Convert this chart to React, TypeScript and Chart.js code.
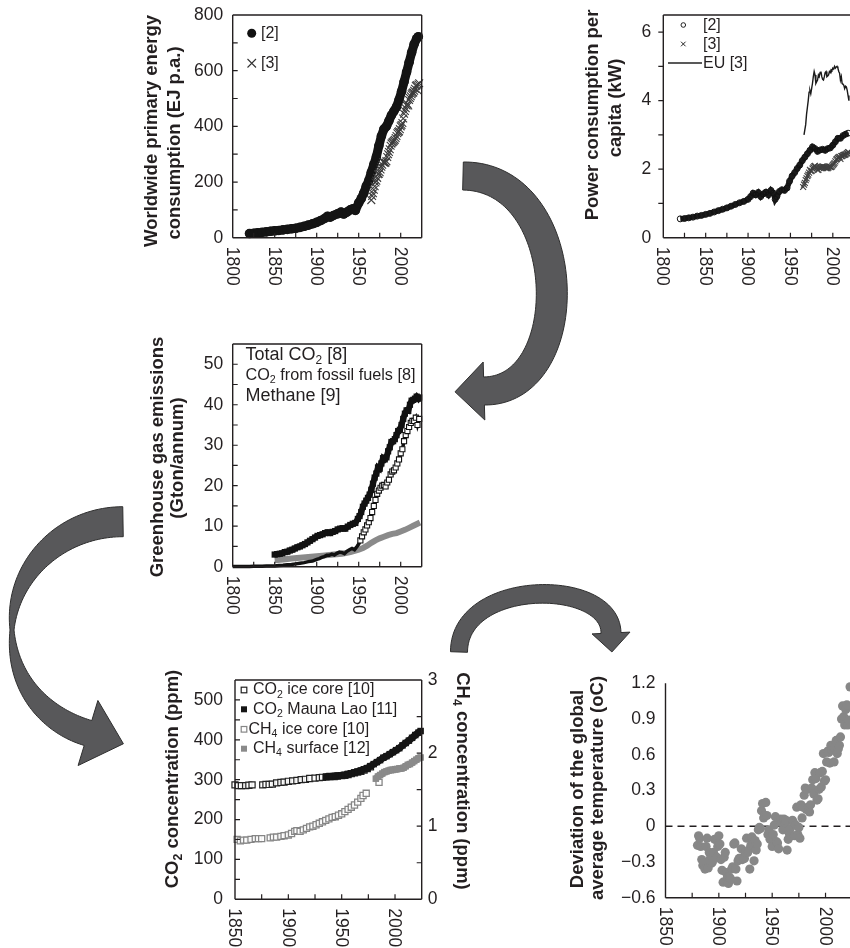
import React, { useEffect, useRef } from 'react';
import { Chart, registerables } from 'chart.js';
Chart.register(...registerables);

const FONT = '"Liberation Sans", Arial, Helvetica, sans-serif';
const INK = '#231f20';

// ---------------- Panel 1: worldwide primary energy (EJ p.a.) ----------------
const energyRef2 = [[1820,15],[1825,16],[1830,18],[1835,19],[1840,21],[1845,23],[1850,25],[1855,26],[1860,28],[1865,30],[1870,32],[1875,34],[1880,37],[1885,41],[1890,45],[1895,50],[1900,55],[1905,62],[1910,70],[1913,77],[1916,74],[1920,80],[1925,86],[1929,92],[1932,85],[1936,92],[1940,100],[1943,104],[1946,98],[1950,125],[1953,140],[1956,160],[1959,185],[1962,205],[1965,235],[1968,262],[1971,290],[1974,330],[1977,365],[1980,390],[1983,400],[1986,420],[1989,440],[1992,455],[1995,470],[1998,495],[2001,525],[2004,560],[2007,595],[2010,630],[2013,665],[2016,695],[2019,715],[2021,722]];
const energyRef3 = [[1965,135],[1966,150],[1967,160],[1968,172],[1969,185],[1970,198],[1971,205],[1972,215],[1973,228],[1974,230],[1975,235],[1976,245],[1977,255],[1978,262],[1979,272],[1980,270],[1981,268],[1982,270],[1983,275],[1984,290],[1985,300],[1986,308],[1987,318],[1988,330],[1989,338],[1990,342],[1991,345],[1992,348],[1993,352],[1994,358],[1995,365],[1996,375],[1997,380],[1998,382],[1999,390],[2000,400],[2001,405],[2002,412],[2003,428],[2004,445],[2005,455],[2006,465],[2007,475],[2008,480],[2009,475],[2010,495],[2011,502],[2012,508],[2013,515],[2014,520],[2015,522],[2016,528],[2017,535],[2018,545],[2019,548],[2020,530],[2021,550],[2022,555]];
const energyTicks = [100,200,300,400,500,600,700];
const energyLabels = [0,200,400,600,800];

// ---------------- Panel 2: power consumption per capita (kW) ----------------
const powerRef2 = [[1820,0.55],[1825,0.56],[1830,0.58],[1835,0.6],[1840,0.63],[1845,0.65],[1850,0.68],[1855,0.71],[1860,0.75],[1865,0.79],[1870,0.83],[1875,0.87],[1880,0.92],[1885,0.97],[1890,1.02],[1895,1.06],[1900,1.12],[1903,1.2],[1906,1.3],[1909,1.25],[1912,1.32],[1915,1.2],[1918,1.28],[1921,1.33],[1924,1.25],[1927,1.38],[1930,1.3],[1932,1.12],[1934,1.2],[1937,1.35],[1940,1.4],[1943,1.38],[1946,1.45],[1949,1.65],[1952,1.8],[1955,1.9],[1958,2.02],[1961,2.12],[1964,2.25],[1967,2.35],[1970,2.45],[1973,2.55],[1976,2.65],[1979,2.6],[1982,2.52],[1985,2.56],[1988,2.58],[1991,2.55],[1994,2.6],[1997,2.62],[2000,2.7],[2003,2.8],[2006,2.9],[2009,2.9],[2012,2.98],[2015,3.02],[2018,3.05]];
const powerRef3 = [[1965,1.48],[1966,1.55],[1967,1.6],[1968,1.68],[1969,1.73],[1970,1.8],[1971,1.84],[1972,1.9],[1973,1.98],[1974,1.94],[1975,1.95],[1976,2.02],[1977,2.05],[1978,2.08],[1979,2.1],[1980,2.05],[1981,2.02],[1982,1.98],[1983,1.98],[1984,2.03],[1985,2.05],[1986,2.05],[1987,2.07],[1988,2.08],[1989,2.07],[1990,2.06],[1991,2.05],[1992,2.03],[1993,2.03],[1994,2.03],[1995,2.05],[1996,2.08],[1997,2.07],[1998,2.06],[1999,2.08],[2000,2.12],[2001,2.15],[2002,2.18],[2003,2.23],[2004,2.28],[2005,2.3],[2006,2.33],[2007,2.35],[2008,2.36],[2009,2.3],[2010,2.38],[2011,2.38],[2012,2.4],[2013,2.42],[2014,2.42],[2015,2.43],[2016,2.45],[2017,2.47],[2018,2.5],[2019,2.48]];
const powerEU = [[1966,3.0],[1968,3.3],[1969,3.6],[1970,3.8],[1971,4.0],[1972,4.25],[1973,4.3],[1974,4.2],[1975,4.35],[1976,4.5],[1977,4.7],[1978,4.85],[1979,4.75],[1980,4.5],[1981,4.55],[1982,4.6],[1983,4.75],[1984,4.7],[1985,4.82],[1986,4.85],[1987,4.7],[1988,4.62],[1989,4.6],[1990,4.7],[1991,4.82],[1992,4.85],[1993,4.7],[1994,4.72],[1995,4.75],[1996,4.85],[1997,4.82],[1998,4.9],[1999,4.88],[2000,4.95],[2001,4.92],[2002,5.0],[2003,4.95],[2004,4.98],[2005,5.0],[2006,4.95],[2007,4.85],[2008,4.8],[2009,4.6],[2010,4.7],[2011,4.5],[2012,4.48],[2013,4.45],[2014,4.35],[2015,4.42],[2016,4.4],[2017,4.3],[2018,4.15],[2019,4.0]];
const powerTicks = [1,2,3,4,5,6];
const powerLabels = [0,2,4,6];

// ---------------- Panel 3: greenhouse gas emissions (Gton/annum) ----------------
const ghgTotal = [[1850,3.0],[1853,3.1],[1856,3.2],[1859,3.3],[1862,3.6],[1865,3.7],[1868,4.0],[1871,4.2],[1874,4.5],[1877,4.8],[1880,5.0],[1883,5.3],[1886,5.6],[1889,6.0],[1892,6.4],[1895,6.8],[1898,7.2],[1901,7.6],[1904,7.8],[1907,8.0],[1910,8.3],[1913,8.5],[1916,8.3],[1919,8.6],[1922,8.8],[1925,9.2],[1928,9.4],[1931,9.5],[1934,9.4],[1937,9.9],[1940,10.3],[1943,10.6],[1946,10.8],[1949,11.8],[1951,12.5],[1953,13.5],[1955,14.8],[1957,15.6],[1959,16.3],[1961,17.0],[1963,17.8],[1965,19.0],[1967,20.5],[1969,22.0],[1971,23.0],[1973,24.5],[1975,24.2],[1977,25.5],[1979,26.8],[1981,26.5],[1983,27.0],[1985,28.5],[1987,29.5],[1989,30.8],[1991,31.0],[1993,31.5],[1995,32.5],[1997,33.5],[1999,33.8],[2001,35.0],[2003,36.5],[2005,37.8],[2007,38.6],[2009,38.5],[2011,40.0],[2013,41.0],[2015,41.2],[2017,41.5],[2019,42.0],[2021,41.5],[2022,41.8]];
const ghgFossil = [[1800,0.03],[1805,0.04],[1810,0.05],[1815,0.06],[1820,0.07],[1825,0.09],[1830,0.1],[1835,0.13],[1840,0.16],[1845,0.2],[1850,0.2],[1855,0.3],[1860,0.35],[1865,0.5],[1870,0.55],[1875,0.7],[1880,0.85],[1885,1.0],[1890,1.25],[1895,1.4],[1900,1.8],[1903,2.0],[1906,2.3],[1909,2.5],[1912,2.8],[1915,2.8],[1918,3.1],[1921,2.9],[1924,3.3],[1927,3.6],[1930,3.5],[1933,3.2],[1936,3.8],[1939,4.2],[1942,4.5],[1945,4.2],[1948,5.0],[1950,5.6],[1952,6.5],[1954,7.5],[1956,8.5],[1958,9.2],[1960,10.2],[1962,11.0],[1964,12.0],[1966,13.5],[1968,15.0],[1970,16.5],[1972,18.0],[1974,18.8],[1976,19.5],[1978,20.0],[1980,20.2],[1982,19.8],[1984,20.8],[1986,21.5],[1988,22.8],[1990,23.5],[1992,23.8],[1994,24.5],[1996,25.5],[1998,26.5],[2000,28.0],[2002,29.0],[2004,31.0],[2006,32.5],[2008,33.5],[2010,34.5],[2012,35.5],[2014,36.0],[2016,36.0],[2018,36.8],[2020,35.0],[2022,36.5]];
const ghgMethane = [[1850,1.6],[1860,1.8],[1870,2.0],[1880,2.2],[1890,2.4],[1900,2.6],[1910,2.8],[1920,3.0],[1930,3.2],[1940,3.6],[1950,4.2],[1955,4.6],[1960,5.2],[1965,5.9],[1970,6.5],[1975,7.0],[1980,7.4],[1985,7.8],[1990,8.1],[1995,8.3],[2000,8.7],[2005,9.1],[2010,9.6],[2015,10.1],[2020,10.6],[2023,10.9]];
const ghgTicks = [5,10,15,20,25,30,35,40,45,50];
const ghgLabels = [0,10,20,30,40,50];

// ---------------- Panel 4: CO2 / CH4 concentration ----------------
const co2IceCore = [[1850,287],[1853,285],[1856,285],[1860,285],[1863,286],[1866,287],[1876,287],[1879,288],[1882,288],[1885,289],[1889,292],[1893,293],[1896,294],[1900,296],[1904,297],[1908,298],[1912,300],[1916,301],[1920,303],[1925,304],[1929,305],[1932,306],[1936,307],[1939,308],[1943,308],[1946,309],[1950,310],[1953,311],[1956,313],[1959,315],[1962,317],[1965,319],[1968,321],[1971,324],[1974,328],[1977,332]];
const co2MaunaLoa = [[1935,307],[1938,308],[1941,308],[1944,309],[1947,310],[1950,311],[1953,312],[1956,314],[1959,316],[1962,318],[1965,320],[1968,323],[1971,326],[1974,329],[1977,334],[1980,339],[1983,344],[1986,349],[1989,355],[1992,359],[1995,364],[1998,369],[2001,374],[2004,379],[2007,386],[2010,392],[2013,398],[2016,405],[2019,412],[2022,418],[2024,422]];
const ch4IceCore = [[1852,0.82],[1855,0.8],[1858,0.81],[1861,0.81],[1865,0.82],[1869,0.83],[1872,0.83],[1875,0.83],[1883,0.84],[1886,0.85],[1889,0.85],[1893,0.86],[1896,0.87],[1900,0.88],[1903,0.9],[1906,0.93],[1908,0.94],[1911,0.93],[1914,0.95],[1917,0.97],[1920,0.99],[1923,1.0],[1926,1.02],[1929,1.04],[1932,1.06],[1935,1.08],[1938,1.1],[1941,1.12],[1944,1.13],[1947,1.15],[1950,1.17],[1953,1.2],[1956,1.23],[1959,1.26],[1962,1.29],[1965,1.33],[1968,1.38],[1970,1.42],[1973,1.45],[1985,1.6]];
const ch4Surface = [[1982,1.65],[1984,1.68],[1986,1.7],[1988,1.72],[1990,1.74],[1992,1.75],[1994,1.76],[1996,1.77],[1998,1.77],[2000,1.78],[2002,1.78],[2004,1.79],[2006,1.79],[2008,1.8],[2010,1.82],[2012,1.84],[2014,1.85],[2016,1.87],[2018,1.89],[2020,1.91],[2022,1.93],[2024,1.94]];
const co2Ticks = [50,100,150,200,250,300,350,400,450,500];
const co2Labels = [0,100,200,300,400,500];
const ch4Ticks = [0.5,1,1.5,2,2.5];
const ch4Labels = [0,1,2,3];

// ---------------- Panel 5: global temperature deviation ----------------
const tempAnomaly = [[1880,-0.16],[1881,-0.08],[1882,-0.10],[1883,-0.17],[1884,-0.28],[1885,-0.33],[1886,-0.31],[1887,-0.36],[1888,-0.17],[1889,-0.10],[1890,-0.35],[1891,-0.22],[1892,-0.27],[1893,-0.31],[1894,-0.30],[1895,-0.22],[1896,-0.11],[1897,-0.11],[1898,-0.26],[1899,-0.17],[1900,-0.08],[1901,-0.15],[1902,-0.28],[1903,-0.37],[1904,-0.47],[1905,-0.26],[1906,-0.22],[1907,-0.39],[1908,-0.43],[1909,-0.48],[1910,-0.43],[1911,-0.44],[1912,-0.36],[1913,-0.34],[1914,-0.15],[1915,-0.14],[1916,-0.36],[1917,-0.46],[1918,-0.29],[1919,-0.27],[1920,-0.27],[1921,-0.19],[1922,-0.28],[1923,-0.26],[1924,-0.27],[1925,-0.22],[1926,-0.10],[1927,-0.22],[1928,-0.20],[1929,-0.36],[1930,-0.16],[1931,-0.09],[1932,-0.16],[1933,-0.29],[1934,-0.12],[1935,-0.20],[1936,-0.15],[1937,-0.03],[1938,-0.01],[1939,-0.02],[1940,0.13],[1941,0.19],[1942,0.07],[1943,0.09],[1944,0.20],[1945,0.09],[1946,-0.07],[1947,-0.03],[1948,-0.11],[1949,-0.11],[1950,-0.17],[1951,-0.07],[1952,0.01],[1953,0.08],[1954,-0.13],[1955,-0.14],[1956,-0.19],[1957,0.05],[1958,0.06],[1959,0.03],[1960,-0.03],[1961,0.06],[1962,0.03],[1963,0.05],[1964,-0.20],[1965,-0.11],[1966,-0.06],[1967,-0.02],[1968,-0.08],[1969,0.05],[1970,0.03],[1971,-0.08],[1972,0.01],[1973,0.16],[1974,-0.07],[1975,-0.01],[1976,-0.10],[1977,0.18],[1978,0.07],[1979,0.16],[1980,0.26],[1981,0.32],[1982,0.14],[1983,0.31],[1984,0.16],[1985,0.12],[1986,0.18],[1987,0.32],[1988,0.39],[1989,0.27],[1990,0.45],[1991,0.40],[1992,0.22],[1993,0.23],[1994,0.31],[1995,0.45],[1996,0.33],[1997,0.46],[1998,0.61],[1999,0.38],[2000,0.39],[2001,0.54],[2002,0.63],[2003,0.62],[2004,0.53],[2005,0.68],[2006,0.64],[2007,0.66],[2008,0.54],[2009,0.65],[2010,0.72],[2011,0.61],[2012,0.65],[2013,0.68],[2014,0.75],[2015,0.90],[2016,1.01],[2017,0.92],[2018,0.85],[2019,0.98],[2020,1.02],[2021,0.85],[2022,0.89],[2023,1.17]];
const tempTickValues = [-0.6,-0.3,0,0.3,0.6,0.9,1.2];
const tempTickLabels = ['\u22120.6','\u22120.3','0','0.3','0.6','0.9','1.2'];

// ---------------- shared year axes ----------------
const yearTicks1800 = [1825,1850,1875,1900,1925,1950,1975,2000];
const yearLabels1800 = [1800,1850,1900,1950,2000];
const yearTicks1850 = [1875,1900,1925,1950,1975,2000];
const yearLabels1850 = [1850,1900,1950,2000];

// ---------------- helpers ----------------
type Part = { t: string; sub?: boolean };
function parseRich(s: string): Part[] {
  const parts: Part[] = [];
  const re = /_(.)/g;
  let last = 0;
  let m: RegExpExecArray | null;
  while ((m = re.exec(s))) {
    if (m.index > last) parts.push({ t: s.slice(last, m.index) });
    parts.push({ t: m[1], sub: true });
    last = re.lastIndex;
  }
  if (last < s.length) parts.push({ t: s.slice(last) });
  return parts;
}
function drawRich(ctx: CanvasRenderingContext2D, s: string, x: number, y: number, size: number, weight: string, align: 'left' | 'center', fitWidth?: number) {
  const parts = parseRich(s);
  const fontFor = (p: Part) => `${weight} ${p.sub ? size * 0.66 : size}px ${FONT}`;
  let w = 0;
  for (const p of parts) { ctx.font = fontFor(p); w += ctx.measureText(p.t).width; }
  const sc = fitWidth ? fitWidth / w : 1;
  ctx.save();
  ctx.translate(x, y);
  ctx.scale(sc, 1);
  ctx.textAlign = 'left';
  ctx.textBaseline = 'middle';
  let cx = align === 'center' ? -w / 2 : 0;
  for (const p of parts) {
    ctx.font = fontFor(p);
    ctx.fillText(p.t, cx, p.sub ? size * 0.3 : 0);
    cx += ctx.measureText(p.t).width;
  }
  ctx.restore();
}

type Title = { text: string; x: number; y: number; rot: number };
type PanelSpec = {
  left: number; top: number; width: number; height: number;
  area: { l: number; t: number; r: number; b: number };
  x: [number, number]; y: [number, number]; y2?: [number, number];
  xTicks: number[]; xLabels: number[];
  yTicks: number[]; yLabels: number[]; yLabelText?: string[]; yTickOut?: boolean; yLabelGap: number; yTickLen?: number;
  y2Ticks?: number[]; y2Labels?: number[];
  frame: string[];
  titles: Title[];
  legend?: (ctx: CanvasRenderingContext2D) => void;
  under?: (ctx: CanvasRenderingContext2D, X: (v: number) => number, Y: (v: number) => number, A: any) => void;
  datasets: any[];
};

function drawDecor(chart: any, spec: PanelSpec) {
  const ctx: CanvasRenderingContext2D = chart.ctx;
  const a = chart.chartArea;
  const ox = spec.left, oy = spec.top;
  const xs = chart.scales.x, ys = chart.scales.y, y2s = chart.scales.y2;
  const A = { l: a.left + ox, r: a.right + ox, t: a.top + oy, b: a.bottom + oy };
  const X = (v: number) => xs.getPixelForValue(v) + ox;
  const Y = (v: number) => ys.getPixelForValue(v) + oy;
  const Y2 = (v: number) => y2s.getPixelForValue(v) + oy;
  ctx.save();
  ctx.translate(-ox, -oy);
  ctx.strokeStyle = INK;
  ctx.fillStyle = INK;
  ctx.lineWidth = 1.4;
  ctx.beginPath();
  if (spec.frame.includes('left')) { ctx.moveTo(A.l, A.t); ctx.lineTo(A.l, A.b); }
  if (spec.frame.includes('bottom')) { ctx.moveTo(A.l, A.b); ctx.lineTo(A.r, A.b); }
  if (spec.frame.includes('top')) { ctx.moveTo(A.l, A.t); ctx.lineTo(A.r, A.t); }
  if (spec.frame.includes('right')) { ctx.moveTo(A.r, A.t); ctx.lineTo(A.r, A.b); }
  ctx.stroke();
  const tl = spec.yTickLen ?? 5;
  ctx.lineWidth = 1.2;
  ctx.beginPath();
  for (const v of spec.xTicks) { const px = X(v); ctx.moveTo(px, A.b); ctx.lineTo(px, A.b - 5); }
  for (const v of spec.yTicks) {
    const py = Y(v);
    if (spec.yTickOut) { ctx.moveTo(A.l - tl, py); ctx.lineTo(A.l, py); }
    else { ctx.moveTo(A.l, py); ctx.lineTo(A.l + tl, py); }
  }
  if (spec.y2Ticks) for (const v of spec.y2Ticks) { const py = Y2(v); ctx.moveTo(A.r, py); ctx.lineTo(A.r - 5, py); }
  ctx.stroke();
  ctx.font = `17.5px ${FONT}`;
  ctx.textBaseline = 'middle';
  for (const v of spec.xLabels) {
    ctx.save();
    ctx.translate(X(v), A.b + 9);
    ctx.rotate(Math.PI / 2);
    ctx.textAlign = 'left';
    ctx.fillText(String(v), 0, 1);
    ctx.restore();
  }
  ctx.textAlign = 'right';
  spec.yLabels.forEach((v, i) => {
    const txt = spec.yLabelText ? spec.yLabelText[i] : String(v);
    ctx.fillText(txt, A.l - spec.yLabelGap, Y(v));
  });
  if (spec.y2Labels) {
    ctx.textAlign = 'left';
    for (const v of spec.y2Labels) ctx.fillText(String(v), A.r + 6, Y2(v));
  }
  for (const t of spec.titles) {
    ctx.save();
    ctx.translate(t.x, t.y);
    ctx.rotate((t.rot * Math.PI) / 180);
    drawRich(ctx, t.text, 0, 0, 18.5, 'bold', 'center');
    ctx.restore();
  }
  if (spec.legend) spec.legend(ctx);
  ctx.restore();
}

function drawUnder(chart: any, spec: PanelSpec) {
  if (!spec.under) return;
  const ctx: CanvasRenderingContext2D = chart.ctx;
  const a = chart.chartArea;
  const ox = spec.left, oy = spec.top;
  const A = { l: a.left + ox, r: a.right + ox, t: a.top + oy, b: a.bottom + oy };
  const X = (v: number) => chart.scales.x.getPixelForValue(v) + ox;
  const Y = (v: number) => chart.scales.y.getPixelForValue(v) + oy;
  ctx.save();
  ctx.translate(-ox, -oy);
  spec.under(ctx, X, Y, A);
  ctx.restore();
}

const DS = (data: number[][], o: any) => ({ data: data.map(([x, y]) => ({ x, y })), clip: false, pointHoverRadius: 0, ...o });

function buildChart(canvas: HTMLCanvasElement, spec: PanelSpec) {
  const scales: any = {
    x: { type: 'linear', min: spec.x[0], max: spec.x[1], display: false },
    y: { type: 'linear', min: spec.y[0], max: spec.y[1], display: false },
  };
  if (spec.y2) scales.y2 = { type: 'linear', position: 'right', min: spec.y2[0], max: spec.y2[1], display: false };
  return new Chart(canvas, {
    type: 'scatter',
    data: { datasets: spec.datasets },
    options: {
      responsive: false,
      animation: false,
      devicePixelRatio: 1,
      events: [],
      layout: {
        padding: {
          left: spec.area.l - spec.left,
          top: spec.area.t - spec.top,
          right: spec.left + spec.width - spec.area.r,
          bottom: spec.top + spec.height - spec.area.b,
        },
      },
      plugins: { legend: { display: false }, tooltip: { enabled: false } },
      scales,
    } as any,
    plugins: [{ id: 'decor', beforeDatasetsDraw: (c: any) => drawUnder(c, spec), afterDraw: (c: any) => drawDecor(c, spec) }],
  });
}

function legendText(ctx: CanvasRenderingContext2D, s: string, x: number, y: number, size = 16, fit?: number) {
  ctx.fillStyle = INK;
  drawRich(ctx, s, x, y, size, 'normal', 'left', fit);
}
function square(ctx: CanvasRenderingContext2D, x: number, y: number, s: number, color: string, filled: boolean) {
  if (filled) { ctx.fillStyle = color; ctx.fillRect(x - s / 2, y - s / 2, s, s); }
  else { ctx.strokeStyle = color; ctx.lineWidth = 1.2; ctx.strokeRect(x - s / 2, y - s / 2, s, s); }
}

// ---------------- panel specifications ----------------
const panels: PanelSpec[] = [
  {
    left: 130, top: 0, width: 310, height: 300,
    area: { l: 232.7, t: 15, r: 421.7, b: 237.7 },
    x: [1800, 2025], y: [0, 800],
    xTicks: yearTicks1800, xLabels: yearLabels1800,
    yTicks: energyTicks, yLabels: energyLabels, yLabelGap: 9.5,
    frame: ['left', 'bottom', 'top', 'right'],
    titles: [
      { text: 'Worldwide primary energy', x: 151.7, y: 131, rot: -90 },
      { text: 'consumption (EJ p.a.)', x: 174.5, y: 143, rot: -90 },
    ],
    legend: (ctx) => {
      ctx.fillStyle = '#111';
      ctx.beginPath(); ctx.arc(251.7, 33.3, 4.5, 0, Math.PI * 2); ctx.fill();
      legendText(ctx, '[2]', 261, 33.5);
      ctx.strokeStyle = '#333'; ctx.lineWidth = 1.1;
      ctx.beginPath();
      ctx.moveTo(247.5, 59); ctx.lineTo(256, 67.5); ctx.moveTo(256, 59); ctx.lineTo(247.5, 67.5);
      ctx.stroke();
      legendText(ctx, '[3]', 261, 63.5);
    },
    datasets: [
      DS(energyRef2, { order: 2, showLine: true, borderColor: '#141414', borderWidth: 9, borderJoinStyle: 'round', borderCapStyle: 'round', pointStyle: 'circle', pointRadius: 4.8, pointBackgroundColor: '#141414', pointBorderWidth: 0 }),
      DS(energyRef3, { order: 1, showLine: false, pointStyle: 'crossRot', pointRadius: 5.5, pointBorderColor: '#3c3c3c', pointBackgroundColor: '#3c3c3c', pointBorderWidth: 1.1 }),
    ],
  },
  {
    left: 560, top: 0, width: 300, height: 300,
    area: { l: 663.3, t: 15, r: 854, b: 237.7 },
    x: [1800, 2025], y: [0, 6.5],
    xTicks: yearTicks1800, xLabels: yearLabels1800,
    yTicks: powerTicks, yLabels: powerLabels, yLabelGap: 12, yTickOut: true,
    frame: ['left', 'bottom', 'top', 'right'],
    titles: [
      { text: 'Power consumption per', x: 593, y: 115, rot: -90 },
      { text: 'capita (kW)', x: 615.7, y: 108, rot: -90 },
    ],
    legend: (ctx) => {
      ctx.strokeStyle = '#222'; ctx.lineWidth = 1;
      ctx.beginPath(); ctx.arc(683.3, 25, 2.3, 0, Math.PI * 2); ctx.stroke();
      legendText(ctx, '[2]', 703, 25.5);
      ctx.beginPath();
      ctx.moveTo(681, 41.7); ctx.lineTo(685.6, 46.3); ctx.moveTo(685.6, 41.7); ctx.lineTo(681, 46.3);
      ctx.stroke();
      legendText(ctx, '[3]', 703, 44.5);
      ctx.lineWidth = 1.4;
      ctx.beginPath(); ctx.moveTo(668, 63); ctx.lineTo(702, 63); ctx.stroke();
      legendText(ctx, 'EU [3]', 703, 63.5);
    },
    datasets: [
      DS(powerEU, { order: 1, showLine: true, borderColor: '#1a1a1a', borderWidth: 1.4, pointRadius: 0 }),
      DS(powerRef3, { order: 2, showLine: false, pointStyle: 'crossRot', pointRadius: 4.2, pointBorderColor: '#404040', pointBackgroundColor: '#404040', pointBorderWidth: 1.1 }),
      DS(powerRef2, { order: 3, showLine: true, borderColor: '#1a1a1a', borderWidth: 5.5, pointStyle: 'circle', pointRadius: 3, pointBackgroundColor: 'rgba(255,255,255,0)', pointBorderColor: '#111', pointBorderWidth: 1 }),
    ],
  },
  {
    left: 135, top: 320, width: 310, height: 320,
    area: { l: 232.7, t: 344, r: 421.7, b: 566.7 },
    x: [1800, 2025], y: [0, 55],
    xTicks: yearTicks1800, xLabels: yearLabels1800,
    yTicks: ghgTicks, yLabels: ghgLabels, yLabelGap: 9.5,
    frame: ['left', 'bottom', 'top', 'right'],
    titles: [
      { text: 'Greenhouse gas emissions', x: 158.3, y: 457, rot: -90 },
      { text: '(Gton/annum)', x: 178.3, y: 458, rot: -90 },
    ],
    legend: (ctx) => {
      legendText(ctx, 'Total CO_2 [8]', 245.5, 355, 18);
      legendText(ctx, 'CO_2 from fossil fuels [8]', 245.5, 375.7, 16, 170);
      legendText(ctx, 'Methane [9]', 245.5, 395.7, 18);
    },
    datasets: [
      DS(ghgTotal, { order: 1, showLine: true, borderColor: '#111', borderWidth: 6, pointStyle: 'rect', pointRadius: 4.4, pointBackgroundColor: '#111', pointBorderWidth: 0 }),
      DS(ghgFossil, { order: 2, showLine: true, borderColor: '#111', borderWidth: 3.5, pointStyle: 'rect', pointRadius: (c: any) => (c.raw && c.raw.x >= 1952 ? 3.6 : 0), pointBackgroundColor: '#fff', pointBorderColor: '#111', pointBorderWidth: 1.1 }),
      DS(ghgMethane, { order: 3, showLine: true, borderColor: '#8a8a8a', borderWidth: 6, pointRadius: 0 }),
    ],
  },
  {
    left: 140, top: 650, width: 340, height: 298,
    area: { l: 235, t: 680, r: 421.7, b: 899.3 },
    x: [1850, 2025], y: [0, 550], y2: [0, 3],
    xTicks: yearTicks1850, xLabels: yearLabels1850,
    yTicks: co2Ticks, yLabels: co2Labels, yLabelGap: 12,
    y2Ticks: ch4Ticks, y2Labels: ch4Labels,
    frame: ['left', 'bottom', 'top', 'right'],
    titles: [
      { text: 'CO_2 concentration (ppm)', x: 173.3, y: 779, rot: -90 },
      { text: 'CH_4 concentration (ppm)', x: 462, y: 781, rot: 90 },
    ],
    legend: (ctx) => {
      square(ctx, 244, 690, 5.6, '#222', false);
      legendText(ctx, 'CO_2 ice core [10]', 253, 690);
      square(ctx, 244, 709.3, 6, '#151515', true);
      legendText(ctx, 'CO_2 Mauna Lao [11]', 253, 709.3);
      square(ctx, 244, 729.3, 5.6, '#868686', false);
      legendText(ctx, 'CH_4 ice core [10]', 248.5, 729.3);
      square(ctx, 244, 748.7, 6, '#8a8a8a', true);
      legendText(ctx, 'CH_4 surface [12]', 253, 748.7);
    },
    datasets: [
      DS(co2MaunaLoa, { order: 1, yAxisID: 'y', showLine: true, borderColor: '#151515', borderWidth: 7, pointStyle: 'rect', pointRadius: 4.6, pointBackgroundColor: '#151515', pointBorderWidth: 0 }),
      DS(co2IceCore, { order: 2, yAxisID: 'y', showLine: false, pointStyle: 'rect', pointRadius: 4.3, pointBackgroundColor: 'rgba(255,255,255,0.9)', pointBorderColor: '#222', pointBorderWidth: 1.2 }),
      DS(ch4Surface, { order: 3, yAxisID: 'y2', showLine: true, borderColor: '#8a8a8a', borderWidth: 7, pointStyle: 'rect', pointRadius: 4.6, pointBackgroundColor: '#8a8a8a', pointBorderWidth: 0 }),
      DS(ch4IceCore, { order: 4, yAxisID: 'y2', showLine: false, pointStyle: 'rect', pointRadius: 4.3, pointBackgroundColor: 'rgba(255,255,255,0.9)', pointBorderColor: '#868686', pointBorderWidth: 1.3 }),
    ],
  },
  {
    left: 540, top: 650, width: 320, height: 298,
    area: { l: 665.5, t: 683.3, r: 852.2, b: 897.7 },
    x: [1850, 2025], y: [-0.6, 1.2],
    xTicks: yearTicks1850, xLabels: yearLabels1850,
    yTicks: [], yLabels: tempTickValues, yLabelText: tempTickLabels, yLabelGap: 10,
    frame: ['left', 'bottom'],
    titles: [
      { text: 'Deviation of the global', x: 578.3, y: 789, rot: -90 },
      { text: 'average temperature (oC)', x: 598.3, y: 788, rot: -90 },
    ],
    under: (ctx, X, Y, A) => {
      ctx.strokeStyle = INK; ctx.lineWidth = 1.3; ctx.setLineDash([7, 5]);
      ctx.beginPath(); ctx.moveTo(A.l, Y(0)); ctx.lineTo(A.r, Y(0)); ctx.stroke();
      ctx.setLineDash([]);
    },
    datasets: [
      DS(tempAnomaly, { showLine: false, pointStyle: 'circle', pointRadius: 4.6, pointBackgroundColor: '#878787', pointBorderWidth: 0 }),
    ],
  },
];

// ---------------- decorative curved arrows ----------------
type P = [number, number];
function cubic(p0: P, p1: P, p2: P, p3: P, n: number): P[] {
  const out: P[] = [];
  for (let i = 0; i <= n; i++) {
    const t = i / n, u = 1 - t;
    out.push([
      u * u * u * p0[0] + 3 * u * u * t * p1[0] + 3 * u * t * t * p2[0] + t * t * t * p3[0],
      u * u * u * p0[1] + 3 * u * u * t * p1[1] + 3 * u * t * t * p2[1] + t * t * t * p3[1],
    ]);
  }
  return out;
}
function ribbon(ctx: CanvasRenderingContext2D, pts: P[], widths: number[], headLen: number, headHalf: number) {
  const n = pts.length;
  const L: P[] = [], R: P[] = [];
  let tx = 1, ty = 0;
  for (let i = 0; i < n; i++) {
    const a = pts[Math.max(0, i - 1)], b = pts[Math.min(n - 1, i + 1)];
    tx = b[0] - a[0]; ty = b[1] - a[1];
    const m = Math.hypot(tx, ty) || 1; tx /= m; ty /= m;
    const nx = -ty, ny = tx, w = widths[i] / 2;
    L.push([pts[i][0] + nx * w, pts[i][1] + ny * w]);
    R.push([pts[i][0] - nx * w, pts[i][1] - ny * w]);
  }
  const e = pts[n - 1], nx = -ty, ny = tx;
  ctx.beginPath();
  ctx.moveTo(L[0][0], L[0][1]);
  for (let i = 1; i < n; i++) ctx.lineTo(L[i][0], L[i][1]);
  ctx.lineTo(e[0] + nx * headHalf, e[1] + ny * headHalf);
  ctx.lineTo(e[0] + tx * headLen, e[1] + ty * headLen);
  ctx.lineTo(e[0] - nx * headHalf, e[1] - ny * headHalf);
  for (let i = n - 1; i >= 0; i--) ctx.lineTo(R[i][0], R[i][1]);
  ctx.closePath();
  ctx.fillStyle = '#58585a';
  ctx.fill();
  ctx.strokeStyle = '#2e2e2e';
  ctx.lineWidth = 1;
  ctx.lineJoin = 'round';
  ctx.stroke();
}
function drawArrows(ctx: CanvasRenderingContext2D) {
  const a = cubic([463, 176], [575, 176], [580, 391], [484, 391], 80);
  ribbon(ctx, a, a.map((_, i) => 28 + 3 * Math.sin((Math.PI * i) / (a.length - 1))), 29, 29);
  const b1 = cubic([123, 521.7], [61.7, 521.7], [12, 570.2], [12, 630], 50);
  const b2 = cubic([12, 630], [12, 687], [49.6, 721.8], [88, 733], 50).slice(1);
  const b = b1.concat(b2);
  const wb = b.map((_, i) => {
    const s = (2 * i) / (b.length - 1);
    return s < 1 ? 4 + 26 * Math.abs(Math.cos((Math.PI * s) / 2)) : 4 + 22 * Math.abs(Math.cos((Math.PI * s) / 2));
  });
  ribbon(ctx, b, wb, 37, 34);
  const c = cubic([459, 652], [459, 578], [611, 578], [611, 633], 60);
  ribbon(ctx, c, c.map((_, i) => 17 + 3 * (i / (c.length - 1))), 19, 19);
}

function PanelCanvas({ spec }: { spec: PanelSpec }) {
  const ref = useRef<HTMLCanvasElement>(null);
  useEffect(() => {
    if (!ref.current) return;
    const chart = buildChart(ref.current, spec);
    return () => chart.destroy();
  }, [spec]);
  return (
    <canvas
      ref={ref}
      width={spec.width}
      height={spec.height}
      style={{ position: 'absolute', left: spec.left, top: spec.top, width: spec.width, height: spec.height }}
    />
  );
}

function ArrowCanvas() {
  const ref = useRef<HTMLCanvasElement>(null);
  useEffect(() => {
    const cv = ref.current;
    if (!cv) return;
    const ctx = cv.getContext('2d');
    if (!ctx) return;
    ctx.clearRect(0, 0, cv.width, cv.height);
    drawArrows(ctx);
    return () => { ctx.clearRect(0, 0, cv.width, cv.height); };
  }, []);
  return <canvas ref={ref} width={850} height={948} style={{ position: 'absolute', left: 0, top: 0, width: 850, height: 948, zIndex: 5 }} />;
}

export default function App() {
  return (
    <div style={{ position: 'absolute', left: 0, top: 0, width: 850, height: 948, overflow: 'hidden', background: '#fff' }}>
      {panels.map((p, i) => <PanelCanvas key={i} spec={p} />)}
      <ArrowCanvas />
    </div>
  );
}
